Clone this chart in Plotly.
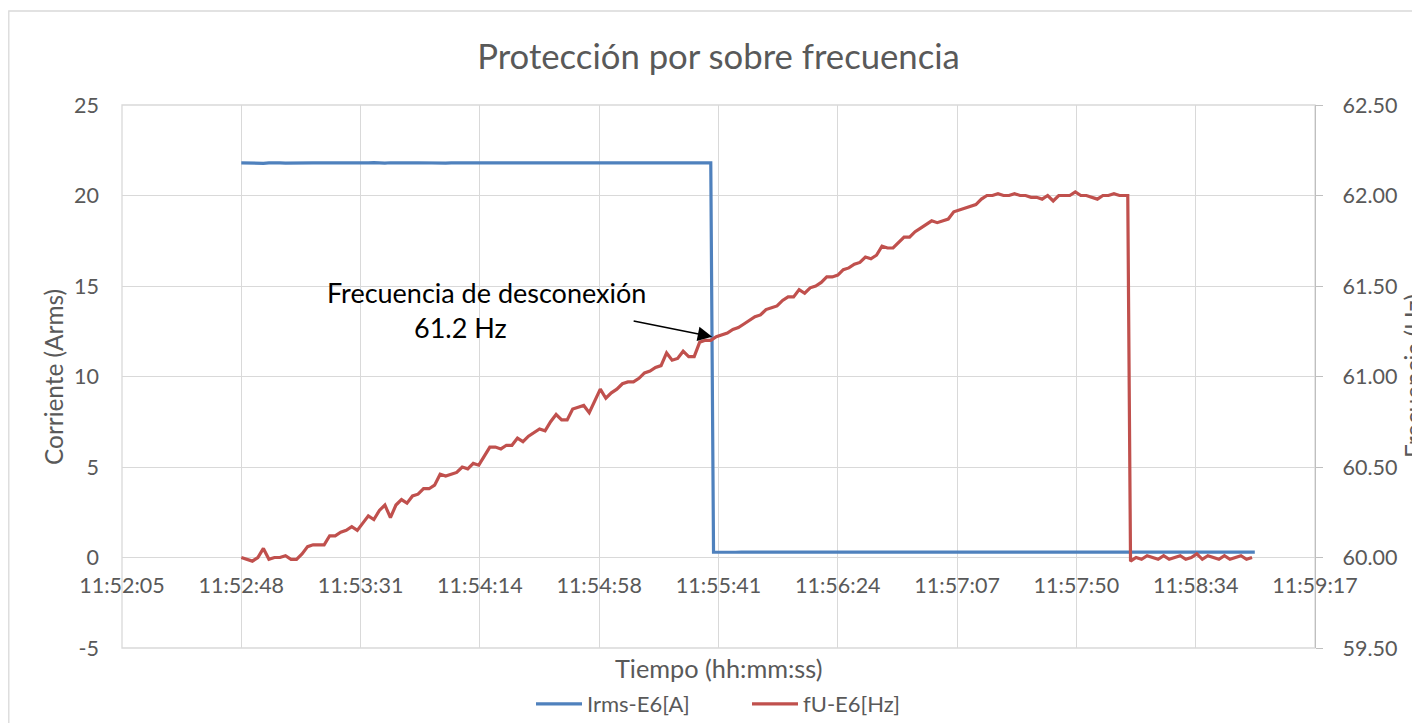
import plotly.graph_objects as go

# ---------------- data ----------------
title_text = "Protección por sobre frecuencia"
x_title = "Tiempo (hh:mm:ss)"
y_title = "Corriente (Arms)"
y2_title = "Frecuencia (Hz)"
series_names = ["Irms-E6[A]", "fU-E6[Hz]"]

# time axis (seconds since midnight); Excel ticks every 0.0005 day = 43.2 s
axis_start = 42724.8
tick_step = 43.2
tick_labels = ["11:52:05", "11:52:48", "11:53:31", "11:54:14", "11:54:58",
               "11:55:41", "11:56:24", "11:57:07", "11:57:50", "11:58:34",
               "11:59:17"]
data_start = 42768.0  # 11:52:48

y_ticks = [-5, 0, 5, 10, 15, 20, 25]
y_tick_labels = ["-5", "0", "5", "10", "15", "20", "25"]
y2_ticks = [59.5, 60.0, 60.5, 61.0, 61.5, 62.0, 62.5]

# current (A) before / after the trip, sampled every 2 s (offsets in s from data_start)
blue_t_hi = list(range(0, 171, 2))
blue_hi = [21.80, 21.79, 21.81, 21.80, 21.78, 21.80, 21.82, 21.80, 21.79, 21.80,
           21.81, 21.80, 21.79, 21.80, 21.80, 21.82, 21.81, 21.80, 21.79, 21.80,
           21.80, 21.81, 21.79, 21.80, 21.82, 21.80, 21.79, 21.81, 21.80, 21.80,
           21.79, 21.80, 21.81, 21.80, 21.80, 21.82, 21.80, 21.79, 21.80, 21.81,
           21.80, 21.79, 21.80, 21.81, 21.80, 21.80, 21.82, 21.80, 21.79, 21.80,
           21.81, 21.80, 21.80, 21.79, 21.80, 21.81, 21.80, 21.82, 21.80, 21.79,
           21.80, 21.80, 21.81, 21.80, 21.79, 21.80, 21.81, 21.80, 21.80, 21.82,
           21.80, 21.79, 21.80, 21.81, 21.80, 21.80, 21.79, 21.81, 21.80, 21.80,
           21.81, 21.80, 21.79, 21.80, 21.81, 21.80]
blue_t_lo = list(range(171, 368, 2))
blue_lo = [0.30, 0.29, 0.30, 0.30, 0.29, 0.30, 0.31, 0.30, 0.29, 0.30,
           0.30, 0.30, 0.29, 0.30, 0.31, 0.30, 0.30, 0.29, 0.30, 0.30,
           0.30, 0.31, 0.30, 0.29, 0.30, 0.30, 0.30, 0.29, 0.30, 0.31,
           0.30, 0.30, 0.29, 0.30, 0.30, 0.31, 0.30, 0.30, 0.29, 0.30,
           0.30, 0.30, 0.31, 0.30, 0.29, 0.30, 0.30, 0.30, 0.29, 0.30,
           0.31, 0.30, 0.30, 0.29, 0.30, 0.30, 0.30, 0.31, 0.30, 0.29,
           0.30, 0.30, 0.30, 0.29, 0.30, 0.31, 0.30, 0.30, 0.29, 0.30,
           0.30, 0.30, 0.31, 0.30, 0.29, 0.30, 0.30, 0.30, 0.29, 0.30,
           0.31, 0.30, 0.30, 0.29, 0.30, 0.30, 0.30, 0.31, 0.30, 0.29,
           0.30, 0.30, 0.30, 0.29, 0.30, 0.31, 0.30, 0.30, 0.30]

# frequency (Hz)
red_t_hi = list(range(0, 322, 2)) + [321]
red_hi = [60.00, 59.99, 59.98, 60.00, 60.05, 59.99, 60.00, 60.00, 60.01, 59.99,
          59.99, 60.02, 60.06, 60.07, 60.07, 60.07, 60.12, 60.12, 60.14, 60.15,
          60.17, 60.15, 60.19, 60.23, 60.21, 60.26, 60.29, 60.22, 60.29, 60.32,
          60.30, 60.34, 60.35, 60.38, 60.38, 60.40, 60.46, 60.45, 60.46, 60.47,
          60.50, 60.49, 60.52, 60.51, 60.56, 60.61, 60.61, 60.60, 60.62, 60.62,
          60.66, 60.64, 60.67, 60.69, 60.71, 60.70, 60.75, 60.79, 60.76, 60.76,
          60.82, 60.83, 60.84, 60.80, 60.87, 60.93, 60.88, 60.91, 60.93, 60.96,
          60.97, 60.97, 60.99, 61.02, 61.03, 61.05, 61.06, 61.13, 61.09, 61.10,
          61.14, 61.11, 61.11, 61.19, 61.20, 61.20, 61.22, 61.23, 61.24, 61.26,
          61.27, 61.29, 61.31, 61.33, 61.34, 61.37, 61.38, 61.39, 61.42, 61.44,
          61.44, 61.48, 61.46, 61.49, 61.50, 61.52, 61.55, 61.55, 61.56, 61.59,
          61.60, 61.62, 61.63, 61.66, 61.65, 61.67, 61.72, 61.71, 61.71, 61.74,
          61.77, 61.77, 61.80, 61.82, 61.84, 61.86, 61.85, 61.86, 61.87, 61.91,
          61.92, 61.93, 61.94, 61.95, 61.98, 62.00, 62.00, 62.01, 62.00, 62.00,
          62.01, 62.00, 62.00, 61.99, 61.99, 61.98, 62.00, 61.97, 62.00, 62.00,
          62.00, 62.02, 62.00, 62.00, 61.99, 61.98, 62.00, 62.00, 62.01, 62.00,
          62.00, 62.00]
red_t_lo = list(range(322, 367, 2))
red_lo = [59.98, 60.00, 59.99, 60.01, 60.00, 59.99, 60.01, 59.99, 60.00, 60.01,
          59.99, 60.00, 60.02, 59.99, 60.01, 60.00, 59.99, 60.01, 59.99, 60.00,
          60.01, 59.99, 60.00]

trip_label = ["Frecuencia de desconexión", "61.2 Hz"]
trip_offset = 170.5   # s after data_start
trip_freq = 61.22

# ---------------- layout constants ----------------
# page pixels (the figure div sits 8 px in from the page's top-left corner)
OFF = 8
PAGE_W, PAGE_H = 1420, 723
PL, PR, PT, PB = 122, 1315, 105, 648     # plot-area edges in page pixels
W, H = PAGE_W - OFF, PAGE_H - OFF
ML, MT = PL - OFF, PT - OFF
MR, MB = W - (PR - OFF), H - (PB - OFF)
PW, PH = PR - PL, PB - PT

FONT = "Lato, Carlito, Calibri, 'Open Sans', sans-serif"
GREY_TXT = "#595959"
GRID = "#D9D9D9"
BLUE = "#4F81BD"
RED = "#C0504D"


def px_x(p):
    return (p - PL) / PW


def px_y(p):
    return (PB - p) / PH


blue_x = [data_start + t for t in blue_t_hi + blue_t_lo]
blue_y = blue_hi + blue_lo
red_x = [data_start + t for t in red_t_hi + red_t_lo]
red_y = red_hi + red_lo

fig = go.Figure()
fig.add_trace(go.Scatter(x=blue_x, y=blue_y, mode="lines", name=series_names[0],
                         line=dict(color=BLUE, width=3.2), yaxis="y"))
fig.add_trace(go.Scatter(x=red_x, y=red_y, mode="lines", name=series_names[1],
                         line=dict(color=RED, width=3.2), yaxis="y2"))

tickvals = [axis_start + tick_step * k for k in range(len(tick_labels))]
TICK_SIZE = 21.5

fig.update_layout(
    width=W, height=H,
    margin=dict(l=ML, r=MR, t=MT, b=MB, autoexpand=False),
    paper_bgcolor="white", plot_bgcolor="white",
    font=dict(family=FONT, color=GREY_TXT, size=20),
    title=dict(text=title_text, x=0.5, xref="paper", xanchor="center",
               y=1 - (57 - OFF) / H, yref="container", yanchor="middle",
               font=dict(family=FONT, size=34.7, color=GREY_TXT)),
    xaxis=dict(range=[tickvals[0], tickvals[-1]], tickmode="array",
               tickvals=tickvals, ticktext=tick_labels,
               showgrid=True, gridcolor=GRID, gridwidth=1.3,
               zeroline=False, showline=False, ticks="",
               anchor="free", position=(0 - y_ticks[0]) / (y_ticks[-1] - y_ticks[0]),
               ticklabelstandoff=13,
               tickfont=dict(size=TICK_SIZE, color=GREY_TXT, family=FONT)),
    yaxis=dict(range=[y_ticks[0], y_ticks[-1]], tickmode="array", tickvals=y_ticks,
               ticktext=y_tick_labels,
               showgrid=True, gridcolor=GRID, gridwidth=1.3,
               zeroline=False, showline=False, ticks="",
               ticklabelstandoff=22,
               tickfont=dict(size=TICK_SIZE, color=GREY_TXT, family=FONT)),
    yaxis2=dict(range=[y2_ticks[0], y2_ticks[-1]], tickmode="array", tickvals=y2_ticks,
                tickformat=".2f", overlaying="y", side="right",
                showgrid=False, zeroline=False,
                showline=True, linecolor="#BFBFBF", linewidth=1.3,
                ticks="outside", ticklen=7, tickcolor="#BFBFBF", tickwidth=1.3,
                ticklabelstandoff=15,
                tickfont=dict(size=TICK_SIZE, color=GREY_TXT, family=FONT)),
    legend=dict(orientation="h", x=px_x(747), xanchor="center", y=px_y(704), yanchor="middle",
                font=dict(size=22, color=GREY_TXT, family=FONT),
                bgcolor="rgba(0,0,0,0)", itemwidth=46,
                entrywidth=155, entrywidthmode="pixels"),
    showlegend=True,
)

annotations = [
    dict(text=y_title, x=px_x(53), y=px_y(377), xref="paper", yref="paper",
         textangle=-90, showarrow=False, xanchor="center", yanchor="middle",
         font=dict(size=24.4, color=GREY_TXT, family=FONT)),
    dict(text=x_title, x=px_x(718), y=px_y(668), xref="paper", yref="paper",
         showarrow=False, xanchor="center", yanchor="middle",
         font=dict(size=25.3, color=GREY_TXT, family=FONT)),
    dict(text=y2_title, x=px_x(1414), y=px_y(376), xref="paper", yref="paper",
         textangle=-90, showarrow=False, xanchor="center", yanchor="middle",
         font=dict(size=24.4, color=GREY_TXT, family=FONT)),
    dict(text=trip_label[0], x=px_x(486), y=px_y(292), xref="paper", yref="paper",
         showarrow=False, xanchor="center", yanchor="middle",
         font=dict(size=27, color="black", family=FONT)),
    dict(text=trip_label[1], x=px_x(460), y=px_y(327), xref="paper", yref="paper",
         showarrow=False, xanchor="center", yanchor="middle",
         font=dict(size=27, color="black", family=FONT)),
    dict(text="", x=data_start + trip_offset, y=trip_freq, xref="x", yref="y2",
         ax=-80, ay=-16, axref="pixel", ayref="pixel",
         showarrow=True, arrowhead=2, arrowsize=1.8, arrowwidth=1.6,
         arrowcolor="black", standoff=0),
]
fig.update_layout(annotations=annotations)

# plot-area frame (gridlines at the range edges) and outer chart-area border
fig.add_shape(type="rect", xref="paper", yref="paper", x0=0, x1=1, y0=0, y1=1,
              line=dict(color=GRID, width=1.3), fillcolor="rgba(0,0,0,0)", layer="below")
fig.add_shape(type="rect", xref="paper", yref="paper",
              x0=px_x(8.8), x1=px_x(1460), y0=px_y(760), y1=px_y(11),
              line=dict(color=GRID, width=1.3), fillcolor="rgba(0,0,0,0)", layer="below")

fig.write_html("out.html")
